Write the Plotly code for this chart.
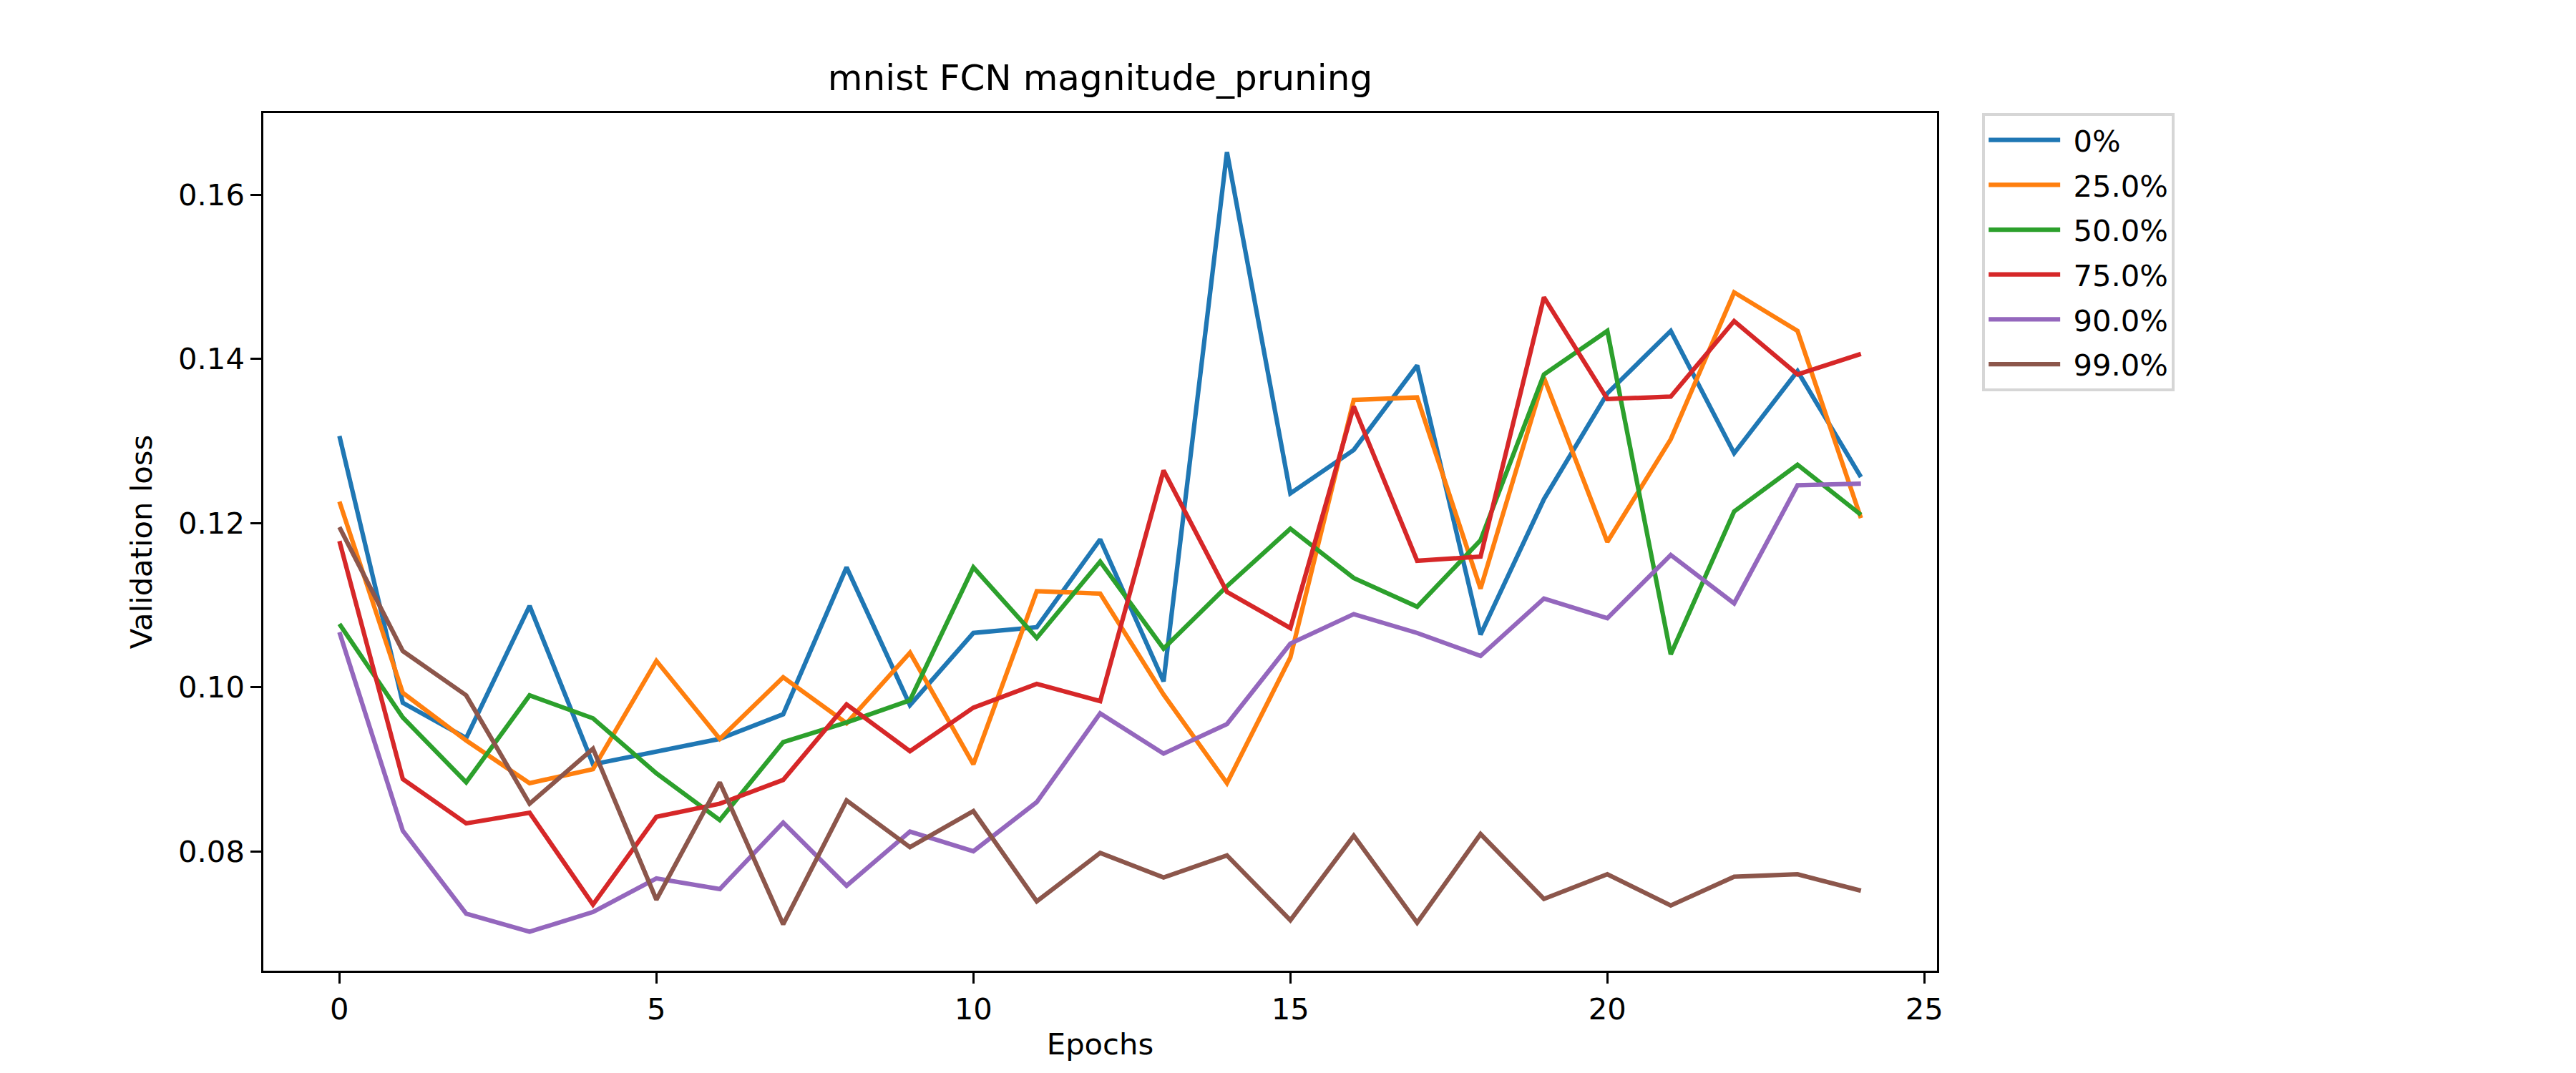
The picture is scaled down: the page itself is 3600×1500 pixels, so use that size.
import plotly.graph_objects as go

epochs = list(range(25))

labels = ['0%', '25.0%', '50.0%', '75.0%', '90.0%', '99.0%']
colors = ['#1f77b4', '#ff7f0e', '#2ca02c', '#d62728', '#9467bd', '#8c564b']

loss_0 = [0.1306, 0.0981, 0.0938, 0.1099, 0.0906, 0.0921, 0.0937, 0.0967, 0.1146, 0.0978,
          0.1066, 0.1073, 0.1180, 0.1007, 0.1652, 0.1236, 0.1289, 0.1392, 0.1064, 0.1229,
          0.1358, 0.1434, 0.1285, 0.1385, 0.1256]
loss_25 = [0.1226, 0.0993, 0.0935, 0.0883, 0.0900, 0.1032, 0.0937, 0.1012, 0.0956, 0.1042,
           0.0906, 0.1117, 0.1114, 0.0991, 0.0883, 0.1036, 0.1350, 0.1353, 0.1120, 0.1377,
           0.1177, 0.1302, 0.1481, 0.1434, 0.1206]
loss_50 = [0.1077, 0.0963, 0.0884, 0.0990, 0.0962, 0.0895, 0.0838, 0.0933, 0.0957, 0.0984,
           0.1146, 0.1060, 0.1153, 0.1047, 0.1123, 0.1193, 0.1133, 0.1098, 0.1179, 0.1381,
           0.1434, 0.1040, 0.1214, 0.1271, 0.1210]
loss_75 = [0.1178, 0.0888, 0.0834, 0.0847, 0.0735, 0.0842, 0.0858, 0.0887, 0.0979, 0.0922,
           0.0975, 0.1004, 0.0983, 0.1264, 0.1116, 0.1072, 0.1342, 0.1154, 0.1159, 0.1475,
           0.1351, 0.1354, 0.1446, 0.1381, 0.1406]
loss_90 = [0.1067, 0.0825, 0.0724, 0.0702, 0.0726, 0.0767, 0.0754, 0.0835, 0.0758, 0.0824,
           0.0800, 0.0860, 0.0968, 0.0919, 0.0955, 0.1053, 0.1089, 0.1066, 0.1038, 0.1108,
           0.1084, 0.1161, 0.1102, 0.1246, 0.1248]
loss_99 = [0.1195, 0.1044, 0.0990, 0.0858, 0.0925, 0.0741, 0.0884, 0.0711, 0.0862, 0.0805,
           0.0849, 0.0739, 0.0798, 0.0768, 0.0795, 0.0716, 0.0819, 0.0713, 0.0821, 0.0742,
           0.0772, 0.0734, 0.0769, 0.0772, 0.0752]

series = [loss_0, loss_25, loss_50, loss_75, loss_90, loss_99]

# matplotlib-like 5% margins
all_vals = [v for s in series for v in s]
ymin, ymax = min(all_vals), max(all_vals)
ypad = 0.05 * (ymax - ymin)
xpad = 0.05 * (max(epochs) - min(epochs))

FONT = 'DejaVu Sans'
FS = 41.7

fig = go.Figure()
for i, (lab, col, vals) in enumerate(zip(labels, colors, series)):
    # a non-breaking space widens the gap between legend line and text
    fig.add_trace(go.Scatter(x=epochs, y=vals, mode='lines', name='\u00a0' + lab,
                             legendgroup=str(i),
                             line=dict(color=col, width=6.25)))

axis_common = dict(showline=True, linecolor='black', linewidth=3.3, mirror=True,
                   showgrid=False, zeroline=False, ticks='outside', ticklen=14.6,
                   tickwidth=3.3, tickcolor='black',
                   tickfont=dict(family=FONT, size=FS, color='black'))

fig.update_xaxes(range=[min(epochs) - xpad, max(epochs) + xpad], dtick=5, tick0=0,
                 title=dict(text='Epochs', font=dict(family=FONT, size=FS, color='black'),
                            standoff=12),
                 **axis_common)
fig.update_yaxes(range=[ymin - ypad, ymax + ypad], dtick=0.02, tick0=0, tickformat='.2f',
                 title=dict(text='Validation loss', font=dict(family=FONT, size=FS, color='black'),
                            standoff=24),
                 **axis_common)

fig.update_layout(
    width=3600, height=1500,
    margin=dict(l=360, r=901, t=150, b=151),
    plot_bgcolor='white', paper_bgcolor='white',
    font=dict(family=FONT, size=FS, color='black'),
    title=dict(text='mnist FCN magnitude_pruning', x=(360 + 2699) / 2 / 3600, xanchor='center',
               yref='paper', y=1, yanchor='bottom', pad=dict(b=32),
               font=dict(family=FONT, size=50, color='black')),
    legend=dict(x=1.027, xanchor='left', y=1, yanchor='top',
                bordercolor='#d6d6d6', borderwidth=4, bgcolor='white',
                font=dict(family=FONT, size=FS, color='black'),
                itemwidth=100, traceorder='grouped', tracegroupgap=5.5),
)

fig.write_html('out.html')
